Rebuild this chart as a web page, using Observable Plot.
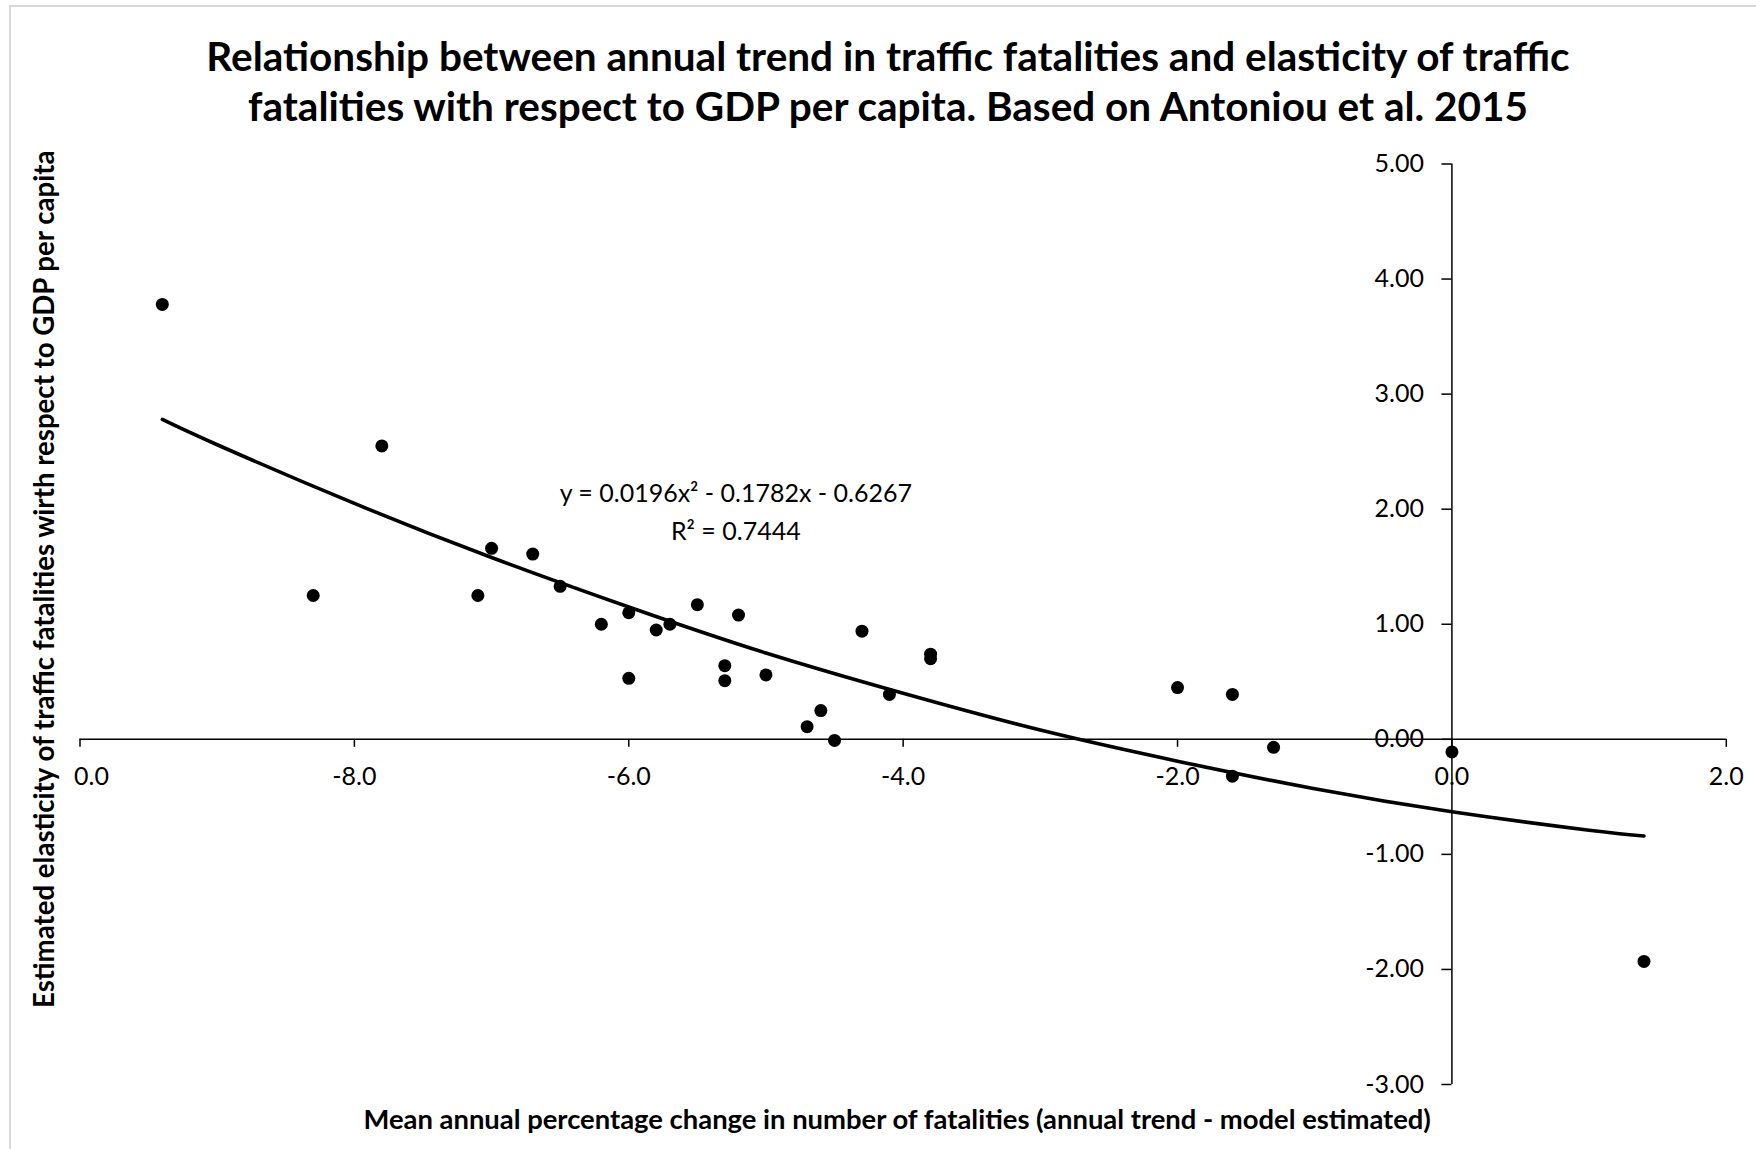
<!DOCTYPE html>
<html><head><meta charset="utf-8">
<script src="https://cdn.jsdelivr.net/npm/d3@7"></script>
<script src="https://cdn.jsdelivr.net/npm/@observablehq/plot@0.6"></script>
<style>
html,body{margin:0;padding:0;background:#fff;overflow:hidden;}
#wrap{position:relative;width:1756px;height:1149px;overflow:hidden;font-family:Lato,"Open Sans",sans-serif;}
#border{position:absolute;left:9px;top:5px;width:1760px;height:1160px;border-left:2px solid #d9d9d9;border-top:2px solid #d9d9d9;}
#chart{position:absolute;left:0;top:0;}
#title{position:absolute;left:0;width:1756px;top:31px;text-align:center;font-weight:700;font-size:40.5px;line-height:50px;color:#000;transform:translateX(10px);}
</style></head><body>
<div id="wrap"><div id="border"></div><div id="chart"></div><div id="title"></div></div>
<script>
const titleLines = [
  "Relationship between annual trend in traffic fatalities and elasticity of traffic",
  "fatalities with respect to GDP per capita. Based on Antoniou et al. 2015"
];
const xTitle = "Mean annual percentage change in number of fatalities (annual trend - model estimated)";
const yTitle = "Estimated elasticity of traffic fatalities wirth respect to GDP per capita";
const eqLine1 = "y = 0.0196x² - 0.1782x - 0.6267";
const eqLine2 = "R² = 0.7444";

// observed countries (x: mean annual % change, y: elasticity)
const ptX = [-9.4, -8.3, -7.8, -7.1, -7.0, -6.7, -6.5, -6.2, -6.0, -6.0, -5.8, -5.7, -5.5, -5.3, -5.3, -5.2, -5.0, -4.7, -4.6, -4.5, -4.3, -4.1, -3.8, -3.8, -2.0, -1.6, -1.6, -1.3, 0.0, 1.4];
const ptY = [3.78, 1.25, 2.55, 1.25, 1.66, 1.61, 1.33, 1.00, 1.10, 0.53, 0.95, 1.00, 1.17, 0.64, 0.51, 1.08, 0.56, 0.11, 0.25, -0.01, 0.94, 0.39, 0.74, 0.70, 0.45, 0.39, -0.32, -0.07, -0.11, -1.93];

// polynomial trendline
const trendX = [-9.4, -9, -8, -7, -6, -5, -4, -3, -2, -1, 0, 1, 1.4];
const trendY = [2.78, 2.56, 2.05, 1.58, 1.15, 0.75, 0.40, 0.08, -0.19, -0.43, -0.63, -0.79, -0.84];

const xTicks = [-10, -8, -6, -4, -2, 0, 2];
const xTickLabels = ["0.0", "-8.0", "-6.0", "-4.0", "-2.0", "0.0", "2.0"];
const yTicks = [5, 4, 3, 2, 1, 0, -1, -2, -3];
const yTickLabels = ["5.00", "4.00", "3.00", "2.00", "1.00", "0.00", "-1.00", "-2.00", "-3.00"];

const eqAnchor = {x: -5.22, y1: 2.13, y2: 1.80};

const points = ptX.map((x, i) => ({x, y: ptY[i]}));
const trend = trendX.map((x, i) => ({x, y: trendY[i]}));
const xTickData = xTicks.map((v, i) => ({v, label: xTickLabels[i]}));
const yTickData = yTicks.map((v, i) => ({v, label: yTickLabels[i]}));

document.getElementById("title").innerHTML = titleLines.join("<br>");

const ink = "#000";
const tickFont = 25;

const chart = Plot.plot({
  width: 1756,
  height: 1149,
  marginLeft: 79.5,
  marginRight: 30.2,
  marginTop: 163.5,
  marginBottom: 65,
  x: {domain: [-10, 2], axis: null},
  y: {domain: [-3, 5], axis: null},
  style: {fontFamily: "Lato, 'Open Sans', sans-serif", color: ink, background: "transparent"},
  marks: [
    Plot.ruleY([0], {stroke: ink, strokeWidth: 1.5}),
    Plot.ruleX([0], {stroke: ink, strokeWidth: 1.5}),
    Plot.ruleX(xTicks, {x: d => d, y1: 0, y2: 0, insetBottom: -8, stroke: ink, strokeWidth: 1.5}),
    Plot.ruleY(yTicks, {y: d => d, x1: 0, x2: 0, insetLeft: -10, stroke: ink, strokeWidth: 1.5}),
    Plot.text(xTickData.slice(1), {x: "v", y: 0, text: "label", dy: 38, fontSize: tickFont, fill: ink}),
    Plot.text(xTickData.slice(0, 1), {x: "v", y: 0, text: "label", dy: 38, dx: -6, textAnchor: "start", fontSize: tickFont, fill: ink}),
    Plot.text(yTickData, {x: 0, y: "v", text: "label", dx: -28, textAnchor: "end", fontSize: tickFont, fill: ink}),
    Plot.line(trend, {x: "x", y: "y", curve: "natural", stroke: ink, strokeWidth: 3.6}),
    Plot.dot(points, {x: "x", y: "y", r: 6.5, fill: ink, stroke: "none"}),
    Plot.text([eqLine1], {x: eqAnchor.x, y: eqAnchor.y1, text: d => d, fontSize: 25, fill: ink}),
    Plot.text([eqLine2], {x: eqAnchor.x, y: eqAnchor.y2, text: d => d, fontSize: 25, fill: ink}),
    Plot.text([xTitle], {frameAnchor: "bottom", textAnchor: "middle", lineAnchor: "middle", dy: 36, dx: -6, text: d => d, fontSize: 27.4, fontWeight: "bold", fill: ink}),
    Plot.text([yTitle], {frameAnchor: "left", textAnchor: "middle", lineAnchor: "middle", rotate: -90, dx: -34.5, dy: -45, text: d => d, fontSize: 27.6, fontWeight: "bold", fill: ink})
  ]
});
document.getElementById("chart").appendChild(chart);
</script>
</body></html>
